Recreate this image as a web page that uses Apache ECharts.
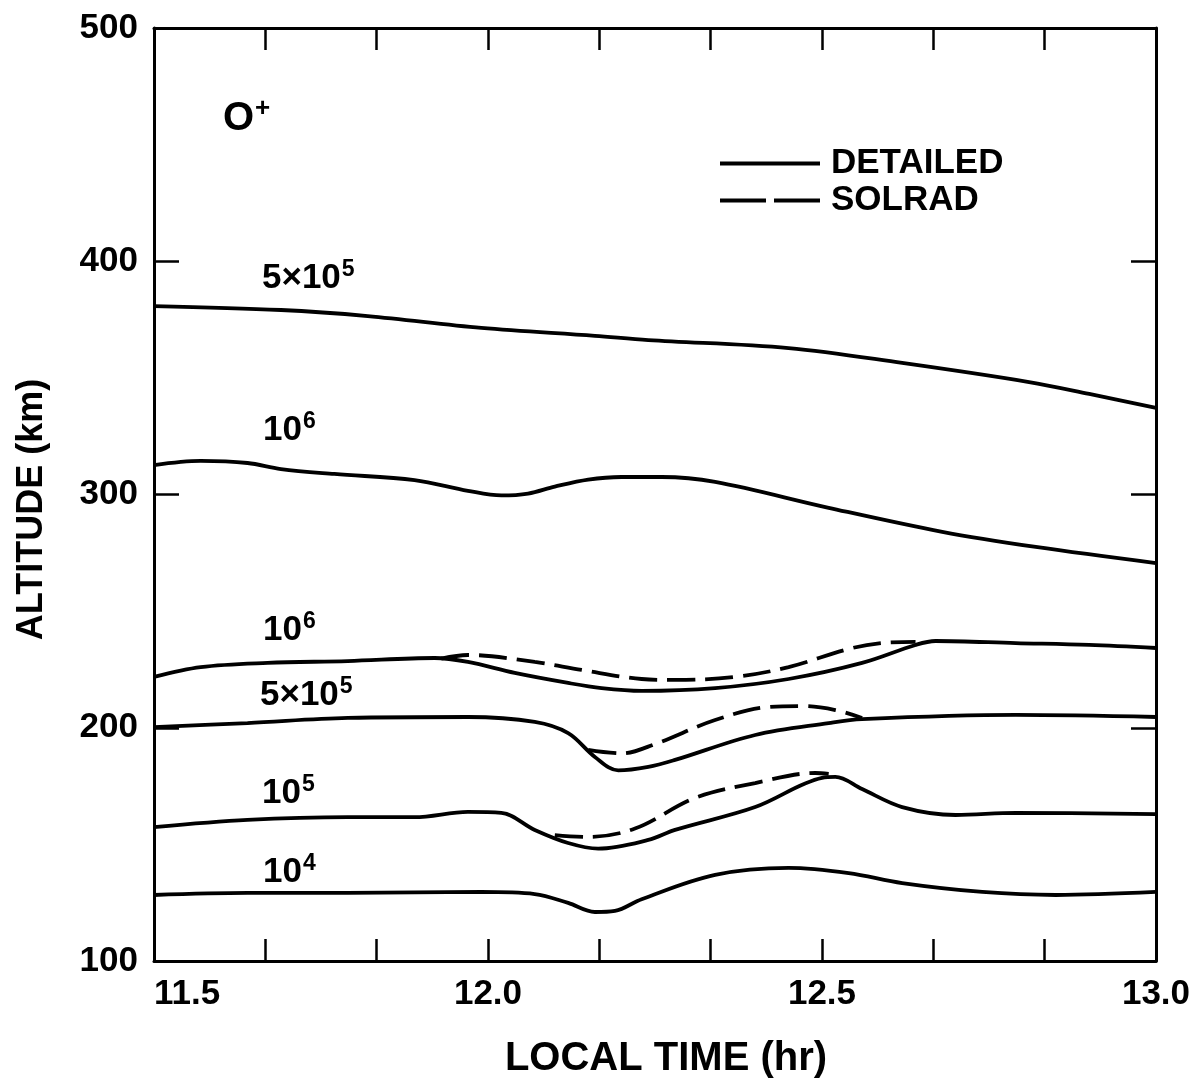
<!DOCTYPE html>
<html>
<head>
<meta charset="utf-8">
<script src="https://cdn.jsdelivr.net/npm/echarts@6/dist/echarts.min.js"></script>
<style>
  html, body { margin: 0; padding: 0; background: #fff; }
  #chart { width: 1192px; height: 1081px; }
</style>
</head>
<body>
<div id="chart"></div>
<script>
// ------------------------------------------------------------
// O+ density contours: altitude (km) vs local time (hr)
// ------------------------------------------------------------

// detailed model (solid)
const detailed5e5Top = [[11.5, 380.8], [11.69, 379.1], [11.82, 376.5], [11.99, 371.4], [12.16, 368.0], [12.24, 366.2], [12.45, 362.8], [12.62, 356.4], [12.81, 348.2], [12.9, 343.1], [13.0, 337.1]];
const detailed1e6Top = [[11.5, 312.6], [11.57, 314.4], [11.64, 313.5], [11.69, 310.9], [11.77, 308.8], [11.89, 306.2], [11.97, 301.6], [12.02, 299.6], [12.06, 300.4], [12.1, 303.4], [12.15, 306.4], [12.2, 307.5], [12.26, 307.5], [12.34, 305.4], [12.51, 294.3], [12.68, 284.0], [12.82, 277.5], [13.0, 270.6]];
const detailed1e6Low = [[11.5, 221.8], [11.57, 226.0], [11.67, 227.8], [11.79, 228.6], [11.92, 229.9], [11.97, 228.2], [12.04, 223.5], [12.12, 219.2], [12.17, 217.0], [12.23, 215.8], [12.34, 217.0], [12.45, 220.9], [12.56, 227.8], [12.64, 235.5], [12.67, 237.2], [12.79, 236.3], [12.9, 235.5], [13.0, 234.2]];
const detailed5e5Low = [[11.5, 200.3], [11.64, 202.0], [11.79, 204.2], [11.97, 204.6], [12.07, 202.5], [12.12, 197.7], [12.16, 187.5], [12.195, 181.7], [12.24, 183.2], [12.28, 186.2], [12.4, 196.9], [12.51, 202.0], [12.56, 203.7], [12.79, 205.5], [13.0, 204.6]];
const detailed1e5 = [[11.5, 157.4], [11.64, 160.5], [11.79, 161.7], [11.89, 161.7], [11.97, 163.9], [12.02, 163.5], [12.07, 156.2], [12.12, 150.6], [12.165, 148.2], [12.24, 151.9], [12.28, 156.2], [12.4, 166.0], [12.5, 178.5], [12.52, 178.9], [12.56, 173.7], [12.62, 166.0], [12.7, 162.6], [12.79, 163.5], [13.0, 163.0]];
const detailed1e4 = [[11.5, 128.3], [11.64, 129.2], [11.79, 129.2], [11.99, 129.6], [12.07, 128.7], [12.12, 124.9], [12.16, 121.0], [12.19, 121.5], [12.23, 126.5], [12.34, 136.9], [12.45, 139.9], [12.54, 137.7], [12.62, 133.4], [12.74, 129.6], [12.85, 128.3], [13.0, 129.6]];

// SOLRAD model (dashed), only where it departs from detailed
const solrad1e6Low = [[11.93, 229.6], [11.97, 231.2], [12.07, 228.2], [12.14, 224.8], [12.23, 220.9], [12.28, 220.5], [12.37, 221.8], [12.45, 226.0], [12.54, 233.8], [12.59, 236.3], [12.64, 236.8]];
const solrad5e5Low = [[12.15, 190.5], [12.2, 189.0], [12.25, 193.0], [12.34, 203.3], [12.42, 208.9], [12.47, 209.3], [12.52, 207.6], [12.56, 204.2]];
const solrad1e5 = [[12.1, 154.0], [12.15, 153.2], [12.22, 156.8], [12.31, 169.9], [12.4, 176.3], [12.49, 180.6], [12.51, 180.2]];

const legendNames = ["DETAILED", "SOLRAD"];
const xTitle = "LOCAL TIME (hr)";
const yTitle = "ALTITUDE (km)";

const FONT = "'Liberation Sans', Arial, sans-serif";
const INK = "#000";

const chart = echarts.init(document.getElementById("chart"));

function lineSeries(name, data, dashed) {
  return {
    name: name,
    type: "line",
    data: data,
    smooth: 0.35,
    symbol: "none",
    silent: true,
    itemStyle: { color: INK },
    lineStyle: { color: INK, width: 3.8, type: dashed ? [28, 10] : "solid" },
    z: dashed ? 3 : 2,
  };
}

function valueXAxis(pos, labels) {
  return {
    type: "value",
    position: pos,
    min: 11.5,
    max: 13.0,
    interval: 0.5,
    axisLine: { show: true, onZero: false, lineStyle: { color: INK, width: 3 } },
    axisTick: { show: true, inside: true, length: 22, lineStyle: { color: INK, width: 2.5 } },
    minorTick: { show: true, splitNumber: 3, length: 22, lineStyle: { color: INK, width: 2.5 } },
    splitLine: { show: false },
    axisLabel: {
      show: labels,
      color: INK,
      fontFamily: FONT,
      fontWeight: "bold",
      fontSize: 35,
      margin: 16,
      alignMinLabel: "left",
      formatter: (v) => v.toFixed(1),
    },
  };
}

function valueYAxis(pos, labels) {
  return {
    type: "value",
    position: pos,
    min: 100,
    max: 500,
    interval: 100,
    axisLine: { show: true, onZero: false, lineStyle: { color: INK, width: 3 } },
    axisTick: { show: true, inside: true, length: 25, lineStyle: { color: INK, width: 2.5 } },
    splitLine: { show: false },
    axisLabel: {
      show: labels,
      color: INK,
      fontFamily: FONT,
      fontWeight: "bold",
      fontSize: 35,
      margin: 16,
    },
  };
}

function curveLabel(left, top, base, sup, size, supSize, lift) {
  return {
    type: "text",
    left: left,
    top: top,
    silent: true,
    style: {
      text: `{b|${base}}{s|${sup}}`,
      rich: {
        b: { fontFamily: FONT, fontWeight: "bold", fontSize: size, color: INK, lineHeight: 42 },
        s: { fontFamily: FONT, fontWeight: "bold", fontSize: supSize, color: INK, lineHeight: 42, padding: [0, 0, lift, 1] },
      },
    },
  };
}

const xTop = valueXAxis("top", false);
const yRight = valueYAxis("right", false);

const xMain = valueXAxis("bottom", true);
xMain.name = xTitle;
xMain.nameLocation = "middle";
xMain.nameGap = 78;
xMain.nameTextStyle = { color: INK, fontFamily: FONT, fontWeight: "bold", fontSize: 40, padding: [0, 0, 0, 22] };

const yMain = valueYAxis("left", true);
yMain.name = yTitle;
yMain.nameLocation = "middle";
yMain.nameGap = 104;
yMain.nameRotate = 90;
yMain.nameTextStyle = { color: INK, fontFamily: FONT, fontWeight: "bold", fontSize: 36, padding: [0, 30, 0, 0] };

chart.setOption({
  backgroundColor: "#fff",
  animation: false,
  grid: { left: 154, right: 36, top: 28, bottom: 120, containLabel: false, outerBoundsMode: "none" },
  xAxis: [xMain, xTop],
  yAxis: [yMain, yRight],
  legend: {
    left: 715,
    top: 140,
    orient: "vertical",
    itemWidth: 100,
    itemHeight: 4,
    itemGap: 0,
    selectedMode: false,
    itemStyle: { color: INK, borderWidth: 0 },
    textStyle: { color: INK, fontFamily: FONT, fontWeight: "bold", fontSize: 35, lineHeight: 37, padding: [0, 0, 0, 6] },
    data: [
      { name: legendNames[0], icon: "path://M0,0h100v4h-100z" },
      { name: legendNames[1], icon: "path://M0,0h46v4h-46z M54,0h46v4h-46z" },
    ],
  },
  graphic: [
    curveLabel(223, 96, "O", "+", 40, 26, 20),
    curveLabel(262, 258, "5×10", "5", 35, 23, 18),
    curveLabel(263, 410, "10", "6", 35, 23, 18),
    curveLabel(263, 610, "10", "6", 35, 23, 18),
    curveLabel(260, 675, "5×10", "5", 35, 23, 18),
    curveLabel(262, 773, "10", "5", 35, 23, 18),
    curveLabel(263, 852, "10", "4", 35, 23, 18),
  ],
  series: [
    lineSeries(legendNames[0], detailed5e5Top, false),
    lineSeries(legendNames[0], detailed1e6Top, false),
    lineSeries(legendNames[0], detailed1e6Low, false),
    lineSeries(legendNames[0], detailed5e5Low, false),
    lineSeries(legendNames[0], detailed1e5, false),
    lineSeries(legendNames[0], detailed1e4, false),
    lineSeries(legendNames[1], solrad1e6Low, true),
    lineSeries(legendNames[1], solrad5e5Low, true),
    lineSeries(legendNames[1], solrad1e5, true),
  ],
});
</script>
</body>
</html>
